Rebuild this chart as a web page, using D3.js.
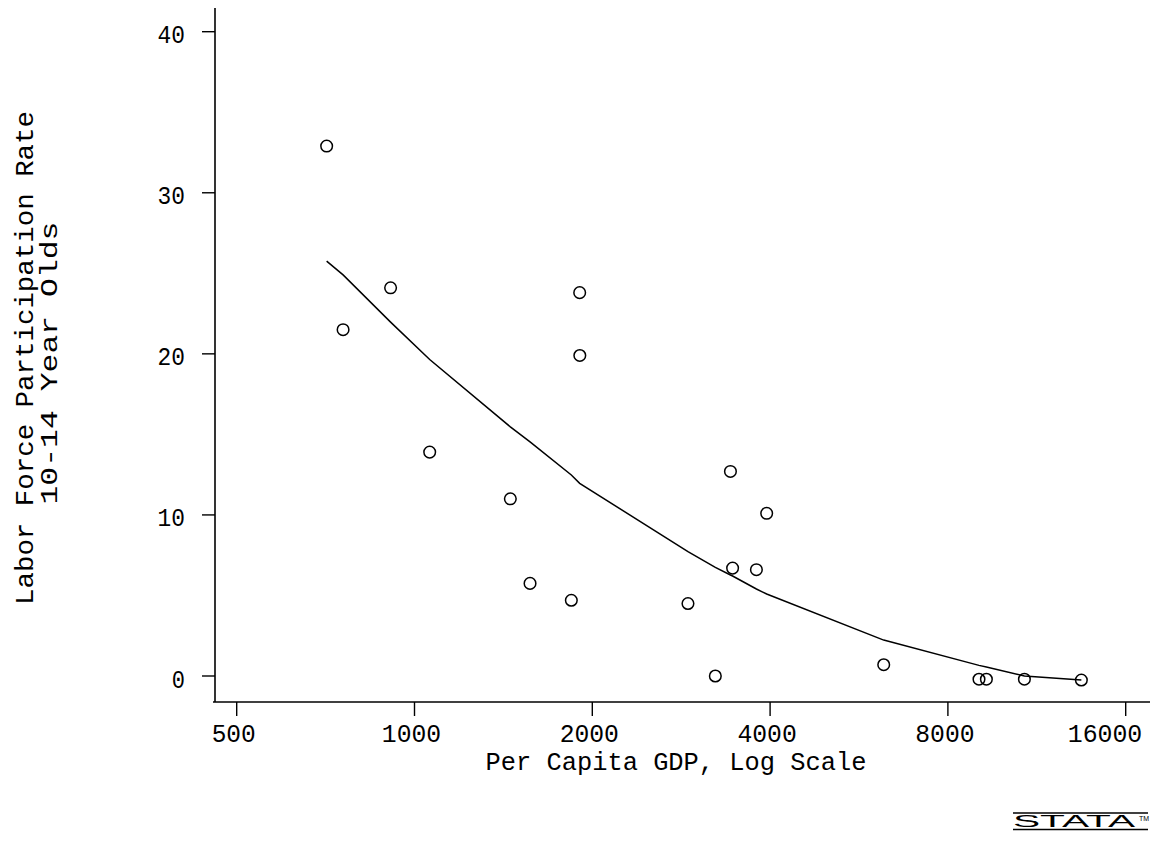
<!DOCTYPE html>
<html>
<head>
<meta charset="utf-8">
<script src="https://cdn.jsdelivr.net/npm/d3@7/dist/d3.min.js"></script>
<style>
  html, body { margin: 0; padding: 0; background: #fff; }
  svg { display: block; }
  text { font-family: "Liberation Mono", "DejaVu Sans Mono", monospace; fill: #000; }
</style>
</head>
<body>
<svg id="chart" width="1158" height="845"></svg>
<script>
// ---- Data ----
const gdp = [710, 757, 911, 1904, 1905, 1061, 1453, 1569, 1843, 2904, 3231, 3427, 3947, 3456, 3792, 6229, 9031, 9295, 10780, 13460];
const participation = [32.9, 21.5, 24.1, 23.8, 19.9, 13.9, 11.0, 5.75, 4.7, 4.5, 0.0, 12.7, 10.1, 6.7, 6.6, 0.7, -0.2, -0.2, -0.2, -0.25];
// smoothed fit evaluated at the sorted GDP values
const fitGdp = [710, 757, 911, 1061, 1453, 1569, 1843, 1904, 2904, 3231, 3427, 3456, 3792, 3947, 6229, 9031, 9295, 10780, 13460];
const fitValue = [25.76, 24.9, 21.97, 19.65, 15.47, 14.53, 12.48, 11.96, 7.72, 6.74, 6.27, 6.21, 5.4, 5.09, 2.23, 0.66, 0.56, 0.0, -0.25];
const xTicks = [500, 1000, 2000, 4000, 8000, 16000];
const yTicks = [0, 10, 20, 30, 40];
const xTitle = "Per Capita GDP, Log Scale";
const yTitle1 = "Labor Force Participation Rate";
const yTitle2 = "10-14 Year Olds";

const svg = d3.select("#chart");
svg.append("rect").attr("width", 1158).attr("height", 845).attr("fill", "#fff");

const x = d3.scaleLog().base(2).domain([500, 16000]).range([236.7, 1125.7]);
const y = d3.scaleLinear().domain([0, 40]).range([676, 31.7]);

const axisY0 = 702;   // x-axis line position
const axisX0 = 215;   // y-axis line position

// Axis lines
svg.append("line").attr("x1", 213).attr("x2", 1150).attr("y1", axisY0).attr("y2", axisY0)
  .attr("stroke", "#000").attr("stroke-width", 1.6);
svg.append("line").attr("x1", axisX0).attr("x2", axisX0).attr("y1", 8).attr("y2", axisY0)
  .attr("stroke", "#000").attr("stroke-width", 1.6);

// X ticks
const xt = svg.append("g");
xt.selectAll("line").data(xTicks).join("line")
  .attr("x1", d => x(d)).attr("x2", d => x(d))
  .attr("y1", axisY0).attr("y2", axisY0 + 14)
  .attr("stroke", "#000").attr("stroke-width", 1.4);
xt.selectAll("text").data(xTicks).join("text")
  .attr("x", d => Math.min(x(d) - 3, 1143 - String(d).length * 15.2 / 2))
  .attr("y", 742)
  .attr("text-anchor", "middle")
  .attr("font-size", 26)
  .attr("textLength", d => String(d).length * 15.2 - 1.5)
  .attr("lengthAdjust", "spacingAndGlyphs")
  .text(d => d);

// Y ticks
const yt = svg.append("g");
yt.selectAll("line").data(yTicks).join("line")
  .attr("x1", axisX0 - 13).attr("x2", axisX0)
  .attr("y1", d => y(d)).attr("y2", d => y(d))
  .attr("stroke", "#000").attr("stroke-width", 1.4);
yt.selectAll("text").data(yTicks).join("text")
  .attr("x", 185)
  .attr("y", d => y(d) + 11.5)
  .attr("text-anchor", "end")
  .attr("font-size", 25)
  .attr("textLength", d => String(d).length * 14.2 - 1)
  .attr("lengthAdjust", "spacingAndGlyphs")
  .text(d => d);

// Axis titles
svg.append("text")
  .attr("x", 676).attr("y", 770)
  .attr("text-anchor", "middle")
  .attr("font-size", 26)
  .attr("textLength", 381).attr("lengthAdjust", "spacingAndGlyphs")
  .text(xTitle);

svg.append("text")
  .attr("transform", "translate(33,358) rotate(-90)")
  .attr("text-anchor", "middle")
  .attr("font-size", 25)
  .attr("textLength", 494).attr("lengthAdjust", "spacingAndGlyphs")
  .text(yTitle1);
svg.append("text")
  .attr("transform", "translate(57,363) rotate(-90)")
  .attr("text-anchor", "middle")
  .attr("font-size", 24)
  .attr("textLength", 283).attr("lengthAdjust", "spacingAndGlyphs")
  .text(yTitle2);

// Fit line
const fitData = fitGdp.map((g, i) => [g, fitValue[i]]);
svg.append("path")
  .datum(fitData)
  .attr("fill", "none")
  .attr("stroke", "#000")
  .attr("stroke-width", 1.5)
  .attr("d", d3.line().x(d => x(d[0])).y(d => y(d[1])));

// Points
const pts = gdp.map((g, i) => [g, participation[i]]);
svg.append("g").selectAll("circle").data(pts).join("circle")
  .attr("cx", d => x(d[0])).attr("cy", d => y(d[1]))
  .attr("r", 5.8)
  .attr("fill", "none")
  .attr("stroke", "#000")
  .attr("stroke-width", 1.5);

// Stata logo
const logo = svg.append("g");
logo.append("line").attr("x1", 1013).attr("x2", 1148).attr("y1", 813).attr("y2", 813)
  .attr("stroke", "#000").attr("stroke-width", 1.3);
logo.append("line").attr("x1", 1013).attr("x2", 1148).attr("y1", 829.5).attr("y2", 829.5)
  .attr("stroke", "#000").attr("stroke-width", 1.3);
logo.append("text")
  .attr("x", 1013).attr("y", 827)
  .attr("font-size", 16)
  .attr("textLength", 122).attr("lengthAdjust", "spacingAndGlyphs")
  .style("font-family", "Liberation Sans")
  .text("STATA");
logo.append("text")
  .attr("x", 1139).attr("y", 821)
  .attr("font-size", 7)
  .style("font-family", "Liberation Sans")
  .text("TM");
</script>
</body>
</html>
